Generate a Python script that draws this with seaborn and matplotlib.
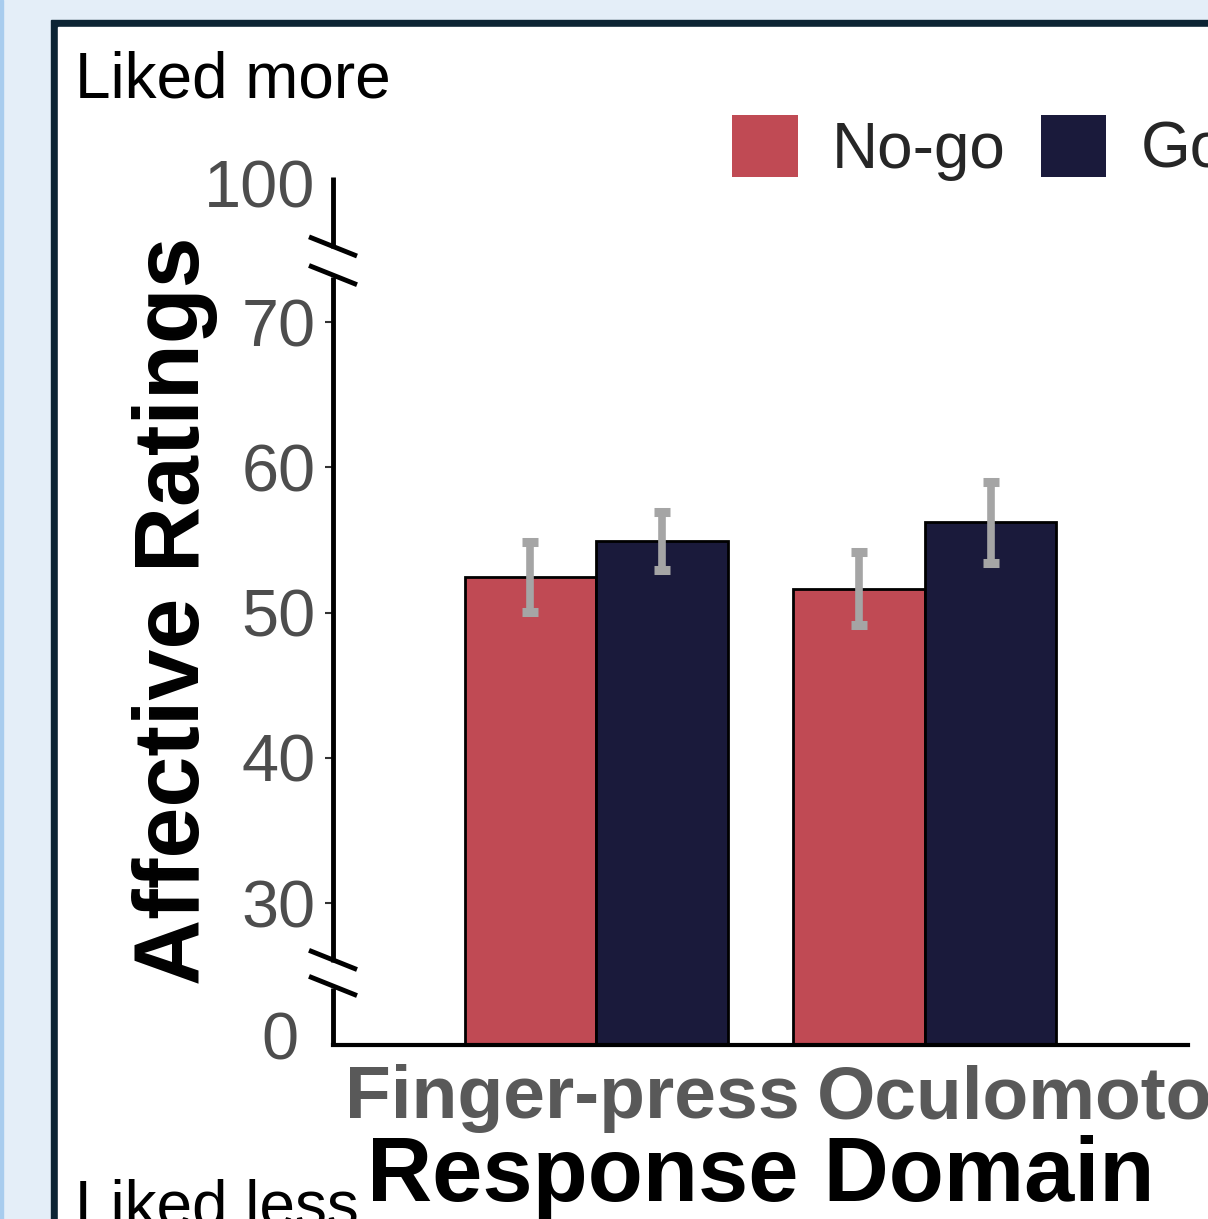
import numpy as np
import pandas as pd
import matplotlib.pyplot as plt
import seaborn as sns
from matplotlib.patches import Rectangle, Patch
from matplotlib import transforms

# Data
domains = ['Finger-press', 'Oculomotor']
conditions = ['No-go', 'Go']
nogo_mean = [52.45, 51.65]
go_mean = [54.95, 56.2]
nogo_se = [2.4, 2.5]
go_se = [2.0, 2.8]
y_ticks = [0, 30, 40, 50, 60, 70, 100]
colors = {'No-go': '#c04a54', 'Go': '#1a1a3b'}

df = pd.DataFrame({
    'domain': domains * 2,
    'condition': ['No-go'] * 2 + ['Go'] * 2,
    'rating': nogo_mean + go_mean,
    'se': nogo_se + go_se,
})

# Broken y axis: squeeze 0-30 and 70-100 into short segments
brk_v = [-10, 0, 30, 70, 100, 110]
brk_p = [-47.3, 0, 142, 723, 862, 908.3]


def fwd(v):
    return np.interp(v, brk_v, brk_p)


def inv(p):
    return np.interp(p, brk_p, brk_v)


sns.set_theme(style='white')
plt.rcParams['font.family'] = ['Liberation Sans', 'DejaVu Sans']

W, H = 1208, 1219
fig = plt.figure(figsize=(W / 100, H / 100), dpi=100, facecolor='#e4eef8')

# Page background / frame
fig.add_artist(Rectangle((0, 0), 2.5 / W, 1, transform=fig.transFigure, color='#a8ccee', zorder=-10))
fig.add_artist(Rectangle((51 / W, -0.1), 1, 1.1 - 20 / H, transform=fig.transFigure, color='#0c2434', zorder=-10))
fig.add_artist(Rectangle((58 / W, -0.1), 1, 1.1 - 27 / H, transform=fig.transFigure, color='white', zorder=-9))

ax = fig.add_axes([333 / W, 174 / H, 855 / W, 868 / H])
ax.set_facecolor('none')

sns.barplot(data=df, x='domain', y='rating', hue='condition', hue_order=conditions,
            order=domains, palette=colors, errorbar=None, saturation=1,
            edgecolor='black', linewidth=2, width=0.8, legend=False, ax=ax)

ax.set_yscale('function', functions=(fwd, inv))

# Error bars (SE) on top of each bar
xs = [p.get_x() + p.get_width() / 2 for p in ax.patches][:len(df)]
ax.errorbar(xs, df['rating'], yerr=df['se'], fmt='none', ecolor='#a5a5a5',
            elinewidth=5.5, capsize=6, capthick=6.5, zorder=5)

ax.set_ylim(0, 101.3)
ax.set_xlim(-0.8, 1.8)

for s in ['top', 'right', 'left']:
    ax.spines[s].set_visible(False)
ax.spines['bottom'].set_linewidth(3)
ax.spines['bottom'].set_color('black')

# y axis drawn by hand with break marks
tr = ax.transAxes
dx, dy = 24 / 855, 9.6 / 868
for y0, y1 in [(0, 0.066), (0.096, 0.885), (0.918, 1.0)]:
    ax.plot([0, 0], [y0, y1], transform=tr, color='black', lw=3.5, clip_on=False,
            solid_capstyle='butt')
for yc in [0.068, 0.098, 0.887, 0.92]:
    ax.plot([-dx, dx], [yc + dy, yc - dy], transform=tr, color='black', lw=3.5,
            clip_on=False, solid_capstyle='butt')

ax.set_yticks(y_ticks)
ax.set_yticklabels([str(t) for t in y_ticks])
ax.tick_params(axis='y', left=True, length=6, width=1.5, color='#333333', pad=6.5,
               labelsize=48, labelcolor='#4d4d4d')
for t in ax.yaxis.get_major_ticks():
    if t.get_loc() in (0, 100):
        t.tick1line.set_visible(False)
zero_lab = ax.get_yticklabels()[0]
zero_lab.set_transform(zero_lab.get_transform() + transforms.ScaledTranslation(-0.17, 0.10, fig.dpi_scale_trans))

ax.tick_params(axis='x', bottom=False, length=0, pad=14, labelsize=54, labelcolor='#595959')
xlabs = ax.get_xticklabels()
for lab in xlabs:
    lab.set_fontweight('bold')
xlabs[0].set_transform(xlabs[0].get_transform() + transforms.ScaledTranslation(-0.24, 0, fig.dpi_scale_trans))
xlabs[1].set_ha('left')
xlabs[1].set_transform(xlabs[1].get_transform() + transforms.ScaledTranslation(-1.08, 0, fig.dpi_scale_trans))

ax.set_ylabel('Affective Ratings', fontsize=66, fontweight='bold', color='black')
ax.yaxis.set_label_coords(-0.135, 0.5)
ax.set_xlabel('Response Domain', fontsize=65, fontweight='bold', color='black')
ax.xaxis.set_label_coords(0.5, -0.104)

fig.text(75 / W, 1 - 97 / H, 'Liked more', fontsize=46, va='baseline', ha='left', color='black')
fig.text(75 / W, -6 / H, 'Liked less', fontsize=46, va='baseline', ha='left', color='black')

handles = [Patch(facecolor=colors[c], edgecolor='none', label=c) for c in conditions]
fig.legend(handles=handles, loc='upper left', bbox_to_anchor=(732 / W, 1 - 115 / H),
           ncol=2, frameon=False, fontsize=46, handlelength=1.03, handleheight=1.12,
           handletextpad=0.53, columnspacing=0.55, borderpad=0, borderaxespad=0)

fig.savefig('out.png', dpi=100, facecolor=fig.get_facecolor())
